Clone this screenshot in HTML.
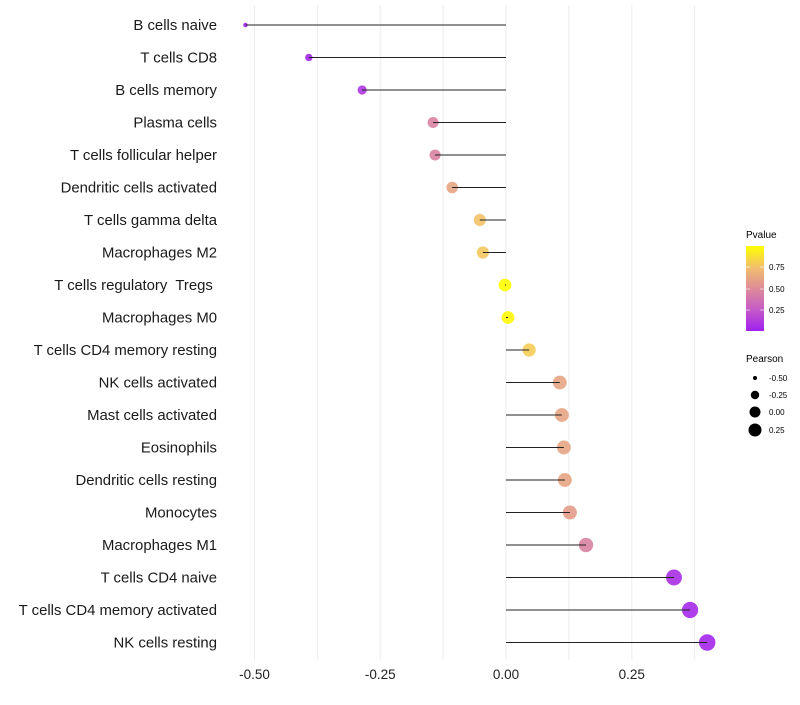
<!DOCTYPE html>
<html><head><meta charset="utf-8"><style>
body{margin:0;background:#fff;font-family:"Liberation Sans",sans-serif}
text{white-space:pre}
</style></head><body>
<svg id="c" width="800" height="700" xmlns="http://www.w3.org/2000/svg">
<defs><linearGradient id="pg" x1="0" y1="1" x2="0" y2="0">
<stop offset="0" stop-color="#a020f0"/><stop offset="0.25" stop-color="#c55ac8"/><stop offset="0.5" stop-color="#dd8c98"/><stop offset="0.75" stop-color="#f2bf6c"/><stop offset="1" stop-color="#ffff00"/></linearGradient></defs>
<g id="grid"></g><g id="marks"></g><g id="labels"></g>
<g font-size="9" fill="#000">
<text x="746" y="238" font-size="10">Pvalue</text>
<rect x="746" y="246" width="18" height="85" fill="url(#pg)"/>
<line x1="746" y1="267" x2="750" y2="267" stroke="#fff" opacity="0.6"/><line x1="760" y1="267" x2="764" y2="267" stroke="#fff" opacity="0.6"/>
<line x1="746" y1="289" x2="750" y2="289" stroke="#fff" opacity="0.6"/><line x1="760" y1="289" x2="764" y2="289" stroke="#fff" opacity="0.6"/>
<line x1="746" y1="310" x2="750" y2="310" stroke="#fff" opacity="0.6"/><line x1="760" y1="310" x2="764" y2="310" stroke="#fff" opacity="0.6"/>
<text x="769" y="270" font-size="8">0.75</text><text x="769" y="292" font-size="8">0.50</text><text x="769" y="313" font-size="8">0.25</text>
</g>
<g fill="#000">
<text x="746" y="362" font-size="10">Pearson</text>
<circle cx="755" cy="378" r="2"/><text x="769" y="381" font-size="8">-0.50</text>
<circle cx="755" cy="395" r="4.2"/><text x="769" y="398" font-size="8">-0.25</text>
<circle cx="755" cy="412" r="5.5"/><text x="769" y="415" font-size="8">0.00</text>
<circle cx="755" cy="430" r="6.5"/><text x="769" y="433" font-size="8">0.25</text>
</g>
</svg>
<script>
const categories=["B cells naive","T cells CD8","B cells memory","Plasma cells","T cells follicular helper","Dendritic cells activated","T cells gamma delta","Macrophages M2","T cells regulatory  Tregs ","Macrophages M0","T cells CD4 memory resting","NK cells activated","Mast cells activated","Eosinophils","Dendritic cells resting","Monocytes","Macrophages M1","T cells CD4 naive","T cells CD4 memory activated","NK cells resting"];
const pearson=[-0.518,-0.392,-0.286,-0.145,-0.141,-0.107,-0.052,-0.046,-0.002,0.004,0.046,0.107,0.111,0.115,0.117,0.127,0.159,0.334,0.366,0.400];
const pvalues=[0.01,0.02,0.1,0.45,0.45,0.62,0.76,0.78,1.0,0.98,0.8,0.62,0.62,0.62,0.62,0.58,0.45,0.06,0.04,0.03];
const xTicks=[-0.5,-0.25,0,0.25];
const xTickLabels=["-0.50","-0.25","0.00","0.25"];
const NS="http://www.w3.org/2000/svg";
const x=v=>506+v*503;
const y=i=>25+i*32.5;
const stops=[[0,[160,32,240]],[0.25,[197,90,200]],[0.5,[221,140,152]],[0.75,[242,191,108]],[1,[255,255,0]]];
function col(p){for(let k=1;k<stops.length;k++){if(p<=stops[k][0]){const a=stops[k-1],b=stops[k],t=(p-a[0])/(b[0]-a[0]);return "rgb("+a[1].map((c,j)=>Math.round(c+(b[1][j]-c)*t)).join(",")+")";}}return "rgb(255,255,0)";}
function el(t,a,parent){const e=document.createElementNS(NS,t);for(const k in a)e.setAttribute(k,a[k]);document.getElementById(parent).appendChild(e);return e;}
for(let v=-0.5;v<=0.38;v+=0.125){const g=el("line",{x1:x(v),x2:x(v),y1:5,y2:660,stroke:"#ededed","stroke-width":1},"grid");

}
xTicks.forEach((t,i)=>{const e=el("text",{x:x(t),y:679,"text-anchor":"middle","font-size":"13.5",fill:"#222"},"labels");e.textContent=xTickLabels[i];

});
categories.forEach((c,i)=>{
const r=1.1*Math.sqrt(Math.max(1,33.4+56.5*pearson[i]));
const d=el("circle",{cx:x(pearson[i]),cy:y(i),r:r,fill:col(pvalues[i]),opacity:0.9},"marks");


const s=el("line",{x1:x(0),x2:x(pearson[i]),y1:y(i),y2:y(i),stroke:"#222","stroke-width":1.1},"marks");


const t=el("text",{x:217,y:y(i)+5,"text-anchor":"end","font-size":"14.9",fill:"#1a1a1a"},"labels");t.textContent=c;


});
</script>
</body></html>
